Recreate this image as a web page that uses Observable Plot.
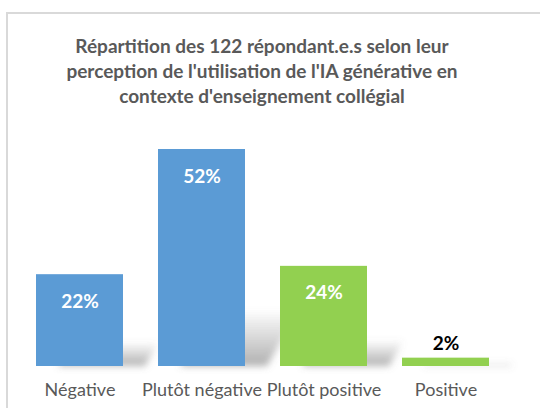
<!DOCTYPE html>
<html>
<head>
<meta charset="utf-8">
<script src="https://cdn.jsdelivr.net/npm/d3@7"></script>
<script src="https://cdn.jsdelivr.net/npm/@observablehq/plot@0.6"></script>
<style>
  html, body { margin: 0; padding: 0; background: #fff; width: 540px; height: 408px; overflow: hidden; }
  #frame { position: absolute; left: 6px; top: 12px; width: 560px; height: 420px; border: 2px solid #d9d9d9; box-sizing: border-box; }
  #title { position: absolute; left: 0; top: 33px; width: 524px; text-align: center; font-family: Lato, sans-serif; font-weight: bold; font-size: 19px; line-height: 25px; color: #595959; }
  #chart { position: absolute; left: 0; top: 120px; }
</style>
</head>
<body>
<div id="frame"></div>
<div id="title">Répartition des 122 répondant.e.s selon leur<br>perception de l'utilisation de l'IA générative en<br>contexte d'enseignement collégial</div>
<div id="chart"></div>
<script>
const categories = ["Négative", "Plutôt négative", "Plutôt positive", "Positive"];
const values = [22, 52, 24, 2];
const labels = ["22%", "52%", "24%", "2%"];
const colors = ["#5B9BD5", "#5B9BD5", "#92D050", "#92D050"];

const data = categories.map((c, i) => ({cat: c, v: values[i], label: labels[i], color: colors[i]}));

const chart = Plot.plot({
  width: 540,
  height: 288,
  marginLeft: 36,
  marginRight: 51,
  marginTop: 29,
  marginBottom: 42,
  style: {fontFamily: "Lato, sans-serif", background: "transparent"},
  x: {domain: categories, paddingInner: 0.287, paddingOuter: 0, label: null},
  y: {domain: [0, 52], axis: null},
  marks: [
    Plot.barY(data, {x: "cat", y: d => d.v * 0.26, fill: "#7f7f7f", dx: 22}),
    Plot.barY(data, {x: "cat", y: "v", fill: "color"}),
    Plot.text(data.filter(d => d.v >= 5), {x: "cat", y: "v", text: "label", dy: 27, fill: "white", fontWeight: "bold", fontSize: 19}),
    Plot.text(data.filter(d => d.v < 5), {x: "cat", y: "v", text: "label", dy: -14, fill: "black", fontWeight: "bold", fontSize: 19}),
    Plot.axisX({tickSize: 0, tickPadding: 17, fontSize: 18, label: null})
  ]
});
chart.querySelectorAll('[aria-label="x-axis tick label"] text, [aria-label="x-axis tick label"]').forEach(t => t.setAttribute("fill", "#595959"));

try {
  const ns = "http://www.w3.org/2000/svg";
  const defs = document.createElementNS(ns, "defs");
  const grad = document.createElementNS(ns, "linearGradient");
  grad.setAttribute("id", "shGrad");
  grad.setAttribute("x1", "0"); grad.setAttribute("y1", "0");
  grad.setAttribute("x2", "0"); grad.setAttribute("y2", "1");
  [["0", "0"], ["1", "0.55"]].forEach(([o, op]) => {
    const s = document.createElementNS(ns, "stop");
    s.setAttribute("offset", o);
    s.setAttribute("stop-color", "#6f6f6f");
    s.setAttribute("stop-opacity", op);
    grad.appendChild(s);
  });
  const filt = document.createElementNS(ns, "filter");
  filt.setAttribute("id", "shBlur");
  filt.setAttribute("x", "-50%"); filt.setAttribute("y", "-50%");
  filt.setAttribute("width", "200%"); filt.setAttribute("height", "200%");
  const blur = document.createElementNS(ns, "feGaussianBlur");
  blur.setAttribute("stdDeviation", "3.5");
  filt.appendChild(blur);
  defs.appendChild(grad);
  defs.appendChild(filt);
  chart.insertBefore(defs, chart.firstChild);

  const y0 = chart.scale("y").apply(0);
  const sh = chart.querySelectorAll('g[aria-label="bar"]')[0];
  if (sh) {
    sh.setAttribute("fill", "url(#shGrad)");
    sh.querySelectorAll("rect").forEach(r => {
      r.setAttribute("fill", "url(#shGrad)");
      r.setAttribute("transform", `translate(0,${y0}) skewX(-30) translate(0,${-y0})`);
    });
    sh.setAttribute("filter", "url(#shBlur)");
  }
} catch (e) {}

document.getElementById("chart").appendChild(chart);
</script>
</body>
</html>
